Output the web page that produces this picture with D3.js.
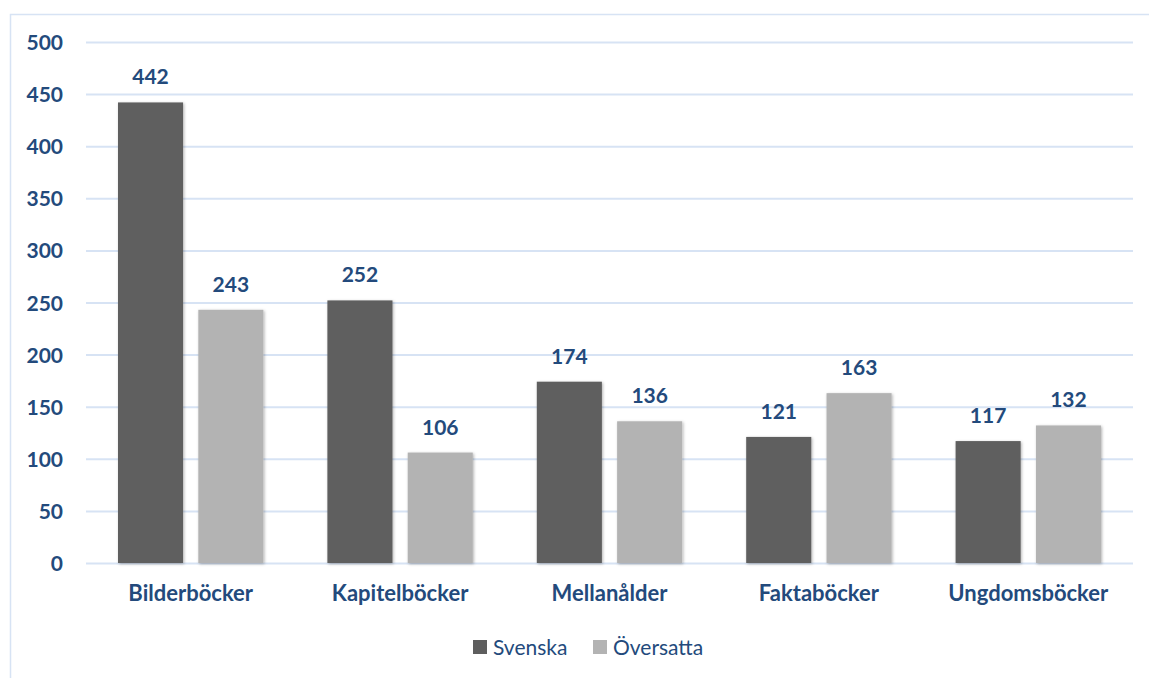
<!DOCTYPE html>
<html>
<head>
<meta charset="utf-8">
<script src="https://cdn.jsdelivr.net/npm/d3@7"></script>
<style>
  body { margin: 0; background: #fff; }
  svg { display: block; }
  svg text { font-family: Lato, "Open Sans", sans-serif; }
  .tick text { fill: #234a7c; font-weight: bold; }
</style>
</head>
<body>
<svg id="chart"></svg>
<script>
var W = 1149, H = 678;

// data
var categories = ["Bilderböcker", "Kapitelböcker", "Mellanålder", "Faktaböcker", "Ungdomsböcker"];
var seriesNames = ["Svenska", "Översatta"];
var svenska = [442, 252, 174, 121, 117];
var oversatta = [243, 106, 136, 163, 132];
var yTicks = [0, 50, 100, 150, 200, 250, 300, 350, 400, 450, 500];

var colors = { "Svenska": "#5e5e5e", "Översatta": "#b3b3b3" };
var textColor = "#234a7c";
var gridColor = "#d7e3f4";

var margin = { top: 42, right: 16, bottom: 115, left: 86 },
    width = 1133 - margin.left,
    height = 563 - margin.top;

var svg = d3.select("#chart")
    .attr("width", W)
    .attr("height", H);

// shadow for bars
var defs = svg.append("defs");
var f = defs.append("filter").attr("id", "shadow")
    .attr("x", "-20%").attr("y", "-10%").attr("width", "140%").attr("height", "120%");
f.append("feDropShadow")
    .attr("dx", 1).attr("dy", 1).attr("stdDeviation", 1.5)
    .attr("flood-color", "#000").attr("flood-opacity", 0.3);

// outer frame
svg.append("path")
    .attr("d", "M10.5," + H + "V14.5H" + W)
    .attr("fill", "none")
    .attr("stroke", gridColor)
    .attr("stroke-width", 1.5);

var g = svg.append("g")
    .attr("transform", "translate(" + margin.left + "," + margin.top + ")");

var x0 = d3.scaleBand()
    .domain(categories)
    .range([0, width])
    .paddingInner(0)
    .paddingOuter(0);

var x1 = d3.scaleBand()
    .domain(seriesNames)
    .range([32, x0.bandwidth() - 32])
    .paddingInner(0.19);

var y = d3.scaleLinear()
    .domain([0, 500])
    .range([height, 0]);

// y axis with grid
var yAxis = g.append("g")
    .attr("class", "axis y-axis")
    .call(d3.axisLeft(y).tickValues(yTicks).tickSize(-width).tickPadding(23));
yAxis.attr("font-family", null).attr("font-size", null);
yAxis.select(".domain").remove();
yAxis.selectAll(".tick line").attr("stroke", gridColor).attr("stroke-width", 2);
yAxis.selectAll(".tick text").style("font-size", "21px").attr("dy", "0.36em");

// x axis labels
var xAxis = g.append("g")
    .attr("class", "axis x-axis")
    .attr("transform", "translate(0," + height + ")")
    .call(d3.axisBottom(x0).tickSize(0).tickPadding(22));
xAxis.attr("font-family", null).attr("font-size", null);
xAxis.select(".domain").remove();
xAxis.selectAll(".tick text").style("font-size", "22px");

var rows = categories.map(function(c, i) {
    return { cat: c, values: [
        { name: "Svenska", value: svenska[i] },
        { name: "Översatta", value: oversatta[i] }
    ]};
});

var groups = g.selectAll(".grp")
    .data(rows)
    .enter()
    .append("g")
    .attr("class", "grp")
    .attr("transform", function(d) { return "translate(" + x0(d.cat) + ",0)"; });

groups.selectAll("rect")
    .data(function(d) { return d.values; })
    .enter()
    .append("rect")
    .attr("x", function(d) { return x1(d.name); })
    .attr("y", function(d) { return y(d.value); })
    .attr("width", x1.bandwidth())
    .attr("height", function(d) { return y(0) - y(d.value); })
    .attr("fill", function(d) { return colors[d.name]; })
    .attr("filter", "url(#shadow)");

groups.selectAll(".val")
    .data(function(d) { return d.values; })
    .enter()
    .append("text")
    .attr("class", "val")
    .attr("x", function(d) { return x1(d.name) + x1.bandwidth() / 2; })
    .attr("y", function(d) { return y(d.value) - 18; })
    .attr("text-anchor", "middle")
    .style("font-size", "21px")
    .style("font-weight", "bold")
    .attr("fill", textColor)
    .text(function(d) { return d.value; });

// legend
var legend = svg.append("g").attr("transform", "translate(473,640)");
var legendX = [0, 120];
seriesNames.forEach(function(s, i) {
    var lg = legend.append("g").attr("transform", "translate(" + legendX[i] + ",0)");
    lg.append("rect")
        .attr("width", 14).attr("height", 14)
        .attr("fill", colors[s]);
    lg.append("text")
        .attr("x", 20).attr("y", 7)
        .attr("dy", "0.36em")
        .style("font-size", "21px")
        .attr("fill", textColor)
        .text(s);
});
</script>
</body>
</html>
